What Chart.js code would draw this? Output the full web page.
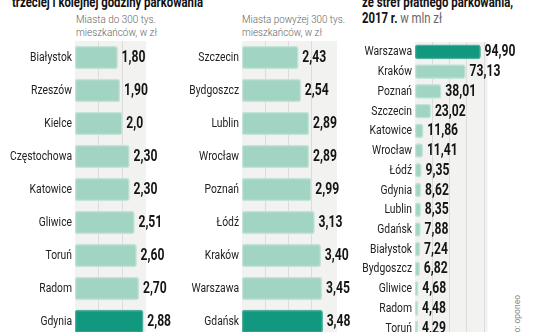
<!DOCTYPE html>
<html>
<head>
<meta charset="utf-8">
<script src="https://cdn.jsdelivr.net/npm/chart.js@4.4.0/dist/chart.umd.min.js"></script>
<style>
  html, body { margin: 0; padding: 0; background: #fff; width: 536px; height: 332px; overflow: hidden; font-family: Roboto, sans-serif; }
  .abs { position: absolute; white-space: nowrap; transform-origin: left top; }
  .title { font-weight: 700; font-size: 14px; line-height: 16px; color: #111; }
  .sub { font-weight: 300; font-size: 11.5px; line-height: 13px; color: #666; }
  canvas { position: absolute; }
</style>
</head>
<body>
<div class="abs title" style="left:12px;top:-6px" data-w="191">trzeciej i kolejnej godziny parkowania</div>
<div class="abs title" style="left:362px;top:-6px" data-w="151">ze stref płatnego parkowania,<br>2017 r. <span style="font-weight:400;color:#666">w mln zł</span></div>
<div class="abs sub" style="left:76px;top:13px" data-w="81">Miasta do 300 tys.<br>mieszkańców, w zł</div>
<div class="abs sub" style="left:242px;top:13px" data-w="103">Miasta powyżej 300 tys.<br>mieszkańców, w zł</div>
<div class="abs" style="left:512px;top:295px;font-size:8.5px;color:#8a8a8a;transform:rotate(-90deg) translateX(-100%)">Źródło: oponeo</div>

<canvas id="small" width="175" height="297" style="left:0;top:41px"></canvas>
<canvas id="big" width="175" height="297" style="left:175px;top:41px"></canvas>
<canvas id="revenue" width="186" height="296" style="left:350px;top:42px"></canvas>

<script>
// stawki za trzecią i kolejną godzinę, miasta do 300 tys.
const smallCities = ['Białystok', 'Rzeszów', 'Kielce', 'Częstochowa', 'Katowice', 'Gliwice', 'Toruń', 'Radom', 'Gdynia'];
const smallFees = [1.80, 1.90, 2.0, 2.30, 2.30, 2.51, 2.60, 2.70, 2.88];
const smallFeeText = ['1,80', '1,90', '2,0', '2,30', '2,30', '2,51', '2,60', '2,70', '2,88'];

// miasta powyżej 300 tys.
const bigCities = ['Szczecin', 'Bydgoszcz', 'Lublin', 'Wrocław', 'Poznań', 'Łódź', 'Kraków', 'Warszawa', 'Gdańsk'];
const bigFees = [2.43, 2.54, 2.89, 2.89, 2.99, 3.13, 3.40, 3.45, 3.48];
const bigFeeText = ['2,43', '2,54', '2,89', '2,89', '2,99', '3,13', '3,40', '3,45', '3,48'];

// wpływy ze stref płatnego parkowania 2017, mln zł
const revenueCities = ['Warszawa', 'Kraków', 'Poznań', 'Szczecin', 'Katowice', 'Wrocław', 'Łódź', 'Gdynia', 'Lublin', 'Gdańsk', 'Białystok', 'Bydgoszcz', 'Gliwice', 'Radom', 'Toruń'];
const revenue = [94.90, 73.13, 38.01, 23.02, 11.86, 11.41, 9.35, 8.62, 8.35, 7.88, 7.24, 6.82, 4.68, 4.48, 4.29];
const revenueText = ['94,90', '73,13', '38,01', '23,02', '11,86', '11,41', '9,35', '8,62', '8,35', '7,88', '7,24', '6,82', '4,68', '4,48', '4,29'];

const smallGrid = [1, 2];
const bigGrid = [1, 2, 3];
const revenueGrid = [25, 50, 75, 100];

const barLight = '#a2d4c4';
const barDark = '#12987e';

// squeeze the headings to the narrow newspaper width
document.querySelectorAll('[data-w]').forEach(el => {
  const w = el.getBoundingClientRect().width;
  el.style.transform = 'scaleX(' + (el.dataset.w / w) + ')';
});

const panelBg = {
  id: 'panelBg',
  beforeDraw(chart) {
    const { ctx, chartArea: a } = chart;
    ctx.save();
    ctx.fillStyle = '#f2f2f0';
    ctx.fillRect(a.left, a.top, a.right - a.left, a.bottom - a.top);
    ctx.restore();
  }
};

// narrow text drawn next to the bars (city names left, values right)
const barText = {
  id: 'barText',
  afterDatasetsDraw(chart, args, opts) {
    const ctx = chart.ctx;
    const y = chart.scales.y;
    const meta = chart.getDatasetMeta(0);
    ctx.save();
    ctx.textBaseline = 'middle';

    ctx.font = '400 ' + opts.labelSize + 'px Roboto';
    ctx.fillStyle = '#222';
    ctx.textAlign = 'right';
    chart.data.labels.forEach((t, i) => {
      ctx.save();
      ctx.translate(y.right - 3, y.getPixelForTick(i) + 0.5);
      ctx.scale(opts.labelSqueeze, 1);
      ctx.fillText(t, 0, 0);
      ctx.restore();
    });

    ctx.font = '700 ' + opts.valueSize + 'px Roboto';
    ctx.fillStyle = '#151515';
    ctx.textAlign = 'left';
    meta.data.forEach((bar, i) => {
      ctx.save();
      ctx.translate(bar.x + 4, bar.y + 0.5);
      ctx.scale(opts.valueSqueeze, 1);
      ctx.fillText(opts.texts[i], 0, 0);
      ctx.restore();
    });
    ctx.restore();
  }
};

function drawPanel(id, cities, values, texts, highlight, cfg) {
  new Chart(document.getElementById(id), {
    type: 'bar',
    data: {
      labels: cities,
      datasets: [{
        data: values,
        backgroundColor: values.map((v, i) => i === highlight ? barDark : barLight),
        borderColor: values.map((v, i) => i === highlight ? '#4fae9a' : '#c4e3d9'),
        borderWidth: 1.5,
        borderRadius: 3,
        borderSkipped: false,
        barThickness: cfg.thickness
      }]
    },
    options: {
      indexAxis: 'y',
      responsive: false,
      animation: false,
      events: [],
      layout: { padding: { top: 0, bottom: 0, left: 0, right: cfg.padRight } },
      plugins: {
        legend: { display: false },
        tooltip: { enabled: false },
        barText: { texts: texts, labelSize: 12, labelSqueeze: 0.86, valueSize: 16, valueSqueeze: 0.76 }
      },
      scales: {
        x: {
          min: 0,
          max: cfg.max,
          position: 'top',
          afterBuildTicks(s) { s.ticks = cfg.grid.map(v => ({ value: v })); },
          ticks: { display: false },
          grid: { drawTicks: false, color: '#dcdcda', lineWidth: 1 },
          border: { display: false }
        },
        y: {
          grid: { display: false },
          border: { display: false },
          ticks: { display: false },
          afterFit(s) { s.width = cfg.axisWidth; }
        }
      }
    },
    plugins: [panelBg, barText]
  });
}

drawPanel('small', smallCities, smallFees, smallFeeText, 8,
  { max: 3.0, grid: smallGrid, axisWidth: 75, padRight: 29, thickness: 23 });
drawPanel('big', bigCities, bigFees, bigFeeText, 8,
  { max: 4.1, grid: bigGrid, axisWidth: 67, padRight: 13, thickness: 23 });
drawPanel('revenue', revenueCities, revenue, revenueText, 0,
  { max: 105, grid: revenueGrid, axisWidth: 65, padRight: 48.5, thickness: 14 });
</script>
</body>
</html>
